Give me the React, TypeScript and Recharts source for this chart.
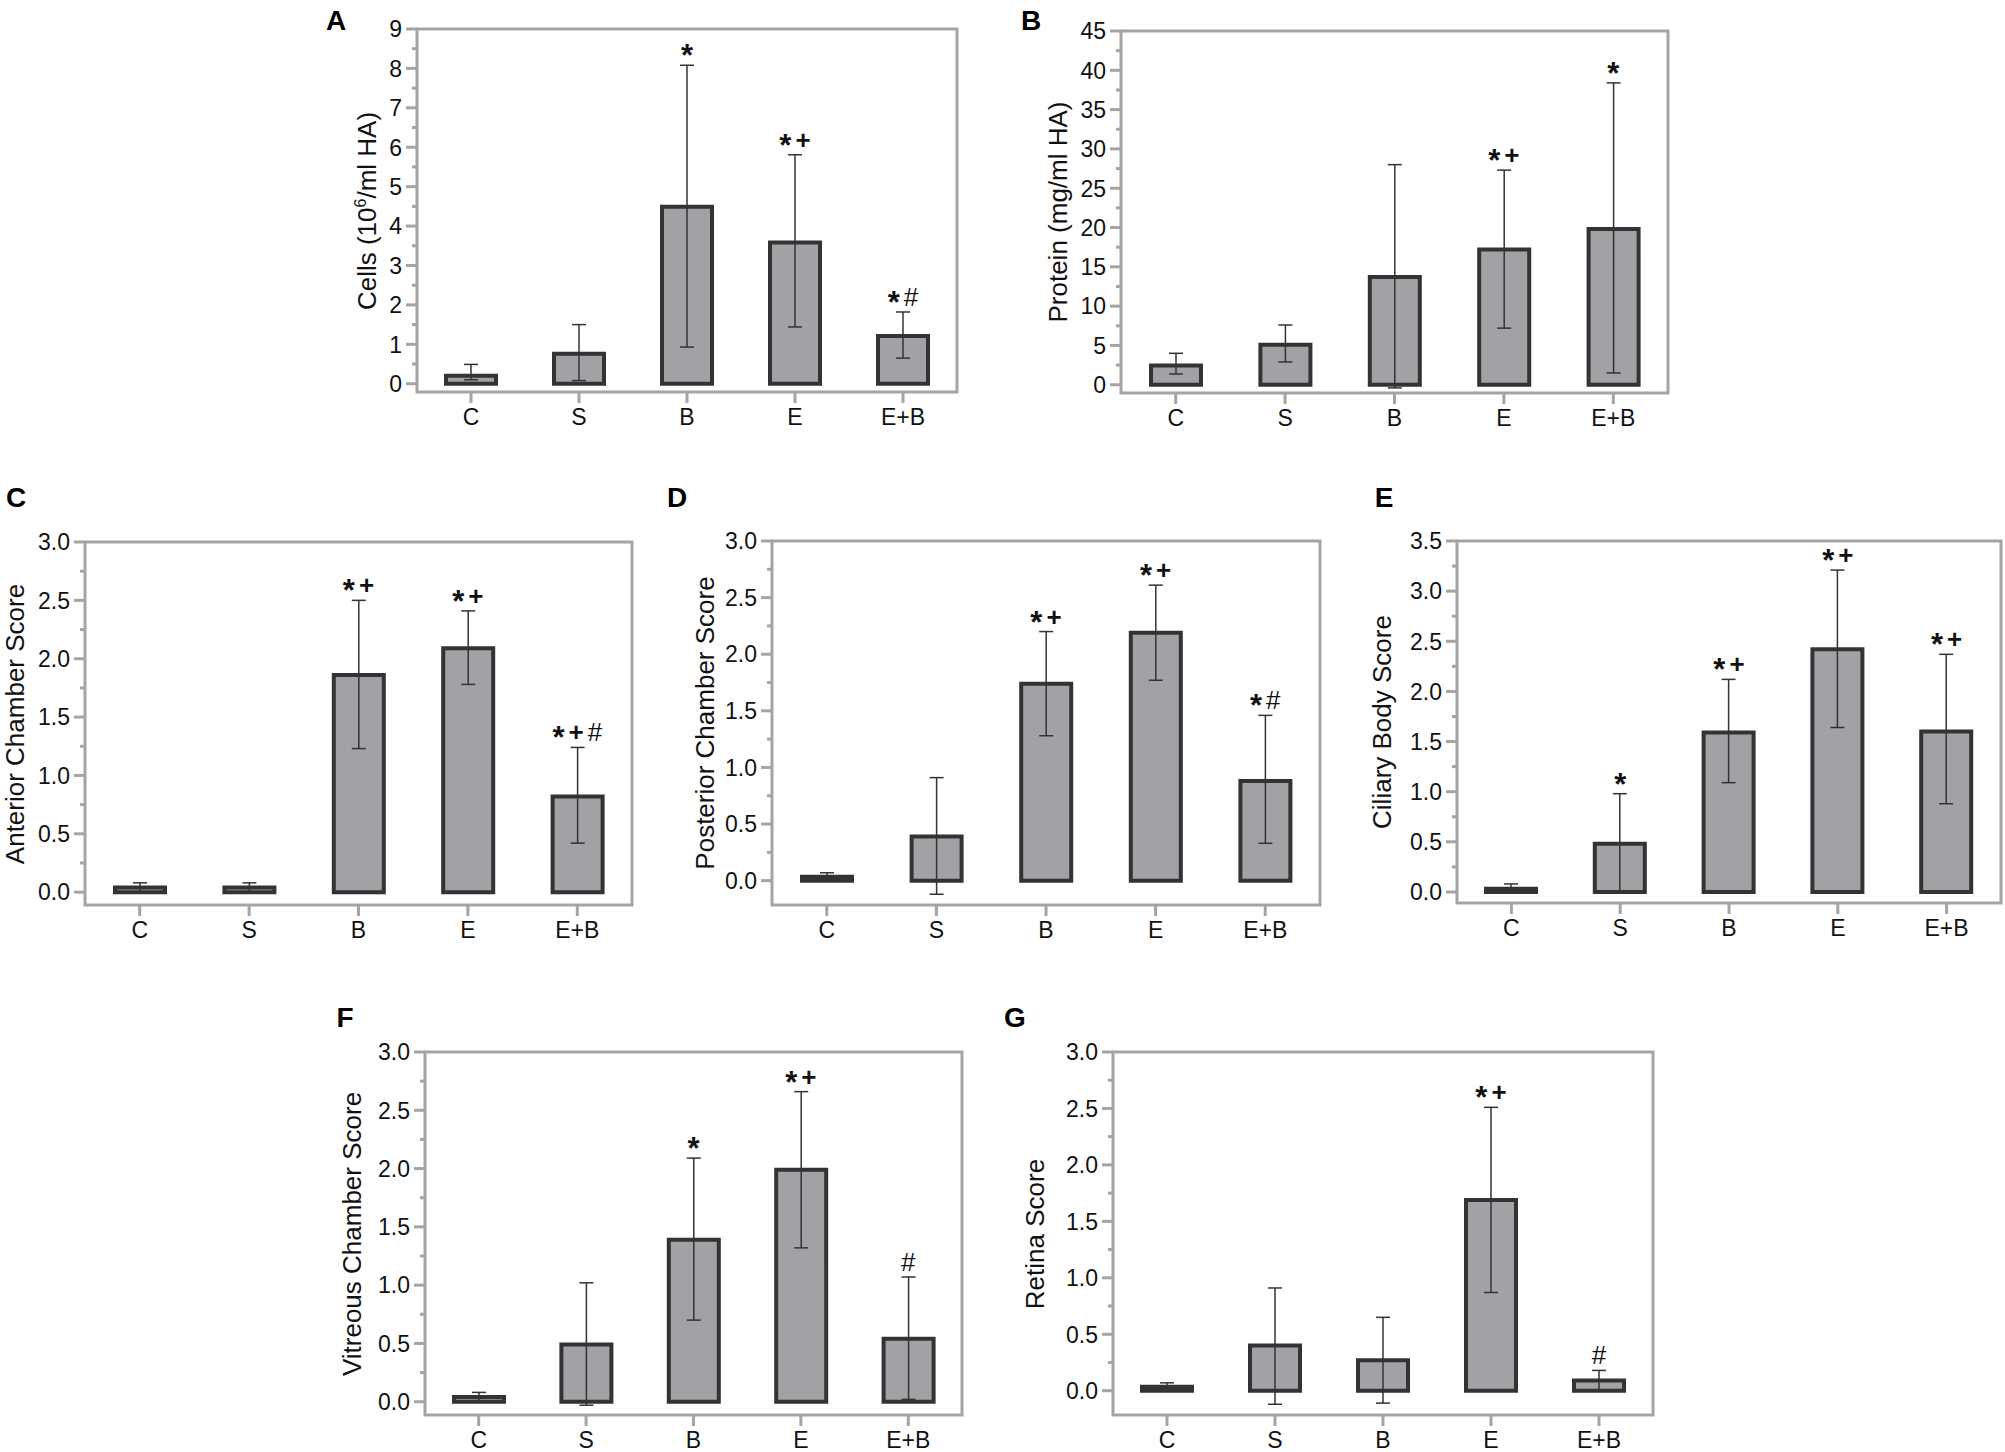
import React from "react";
import {
  Bar,
  ComposedChart,
  ErrorBar,
  LabelList,
  Line,
  ReferenceArea,
  XAxis,
  YAxis,
} from "recharts";

const groups = ["C", "S", "B", "E", "E+B"];

// A - cells
const cellsMean = [0.2, 0.76, 4.49, 3.58, 1.21];
const cellsHigh = [0.49, 1.5, 8.08, 5.81, 1.82];
const cellsLow = [0.1, 0.08, 0.93, 1.44, 0.65];
const cellsSig = ["", "", "*", "*+", "*#"];

// B - protein
const proteinMean = [2.46, 5.08, 13.7, 17.2, 19.8];
const proteinHigh = [4.0, 7.6, 28.0, 27.3, 38.4];
const proteinLow = [1.36, 2.9, -0.4, 7.2, 1.5];
const proteinSig = ["", "", "", "*+", "*"];

// C - anterior chamber
const anteriorMean = [0.04, 0.04, 1.86, 2.09, 0.82];
const anteriorHigh = [0.08, 0.08, 2.5, 2.41, 1.24];
const anteriorLow = [0.0, 0.0, 1.23, 1.78, 0.42];
const anteriorSig = ["", "", "*+", "*+", "*+#"];

// D - posterior chamber
const posteriorMean = [0.035, 0.39, 1.74, 2.19, 0.88];
const posteriorHigh = [0.07, 0.91, 2.2, 2.61, 1.46];
const posteriorLow = [0.0, -0.12, 1.28, 1.77, 0.33];
const posteriorSig = ["", "", "*+", "*+", "*#"];

// E - ciliary body
const ciliaryMean = [0.033, 0.48, 1.59, 2.42, 1.6];
const ciliaryHigh = [0.08, 0.98, 2.12, 3.21, 2.37];
const ciliaryLow = [0.0, 0.0, 1.09, 1.64, 0.88];
const ciliarySig = ["", "*", "*+", "*+", "*+"];

// F - vitreous chamber
const vitreousMean = [0.04, 0.49, 1.39, 1.99, 0.54];
const vitreousHigh = [0.08, 1.02, 2.09, 2.66, 1.07];
const vitreousLow = [0.0, -0.03, 0.7, 1.32, 0.02];
const vitreousSig = ["", "", "*", "*+", "#"];

// G - retina
const retinaMean = [0.035, 0.4, 0.27, 1.69, 0.09];
const retinaHigh = [0.07, 0.91, 0.65, 2.51, 0.18];
const retinaLow = [0.0, -0.12, -0.11, 0.87, 0.0];
const retinaSig = ["", "", "", "*+", "#"];

// axis ticks
const cellsTicks = [0, 1, 2, 3, 4, 5, 6, 7, 8, 9];
const cellsMinor = [0.5, 1.5, 2.5, 3.5, 4.5, 5.5, 6.5, 7.5, 8.5];
const proteinTicks = [0, 5, 10, 15, 20, 25, 30, 35, 40, 45];
const proteinMinor = [2.5, 7.5, 12.5, 17.5, 22.5, 27.5, 32.5, 37.5, 42.5];
const scoreTicks = [0, 0.5, 1, 1.5, 2, 2.5, 3];
const scoreMinor = [0.25, 0.75, 1.25, 1.75, 2.25, 2.75];
const ciliaryTicks = [0, 0.5, 1, 1.5, 2, 2.5, 3, 3.5];
const ciliaryMinor = [0.25, 0.75, 1.25, 1.75, 2.25, 2.75, 3.25];

const AXIS = "#a4a4a4";
const EDGE = "#333333";
const FILL = "#a2a2a6";
const FONT = "'Liberation Sans', Arial, sans-serif";
const TOP = 20; // room above each plot box

const makeRows = (mean, high, low, sig) =>
  groups.map((g, i) => ({
    group: g,
    mean: mean[i],
    high: high[i],
    err: [mean[i] - low[i], high[i] - mean[i]],
    sig: sig[i],
  }));

const YTick = ({ x, y, payload, major, decimals }: any) => {
  const isMajor = major.includes(payload.value);
  return (
    <g>
      <line
        x1={x - (isMajor ? 11 : 5)}
        x2={x}
        y1={y}
        y2={y}
        stroke={AXIS}
        strokeWidth={3}
      />
      {isMajor && (
        <text
          x={x - 15}
          y={y}
          dy="0.36em"
          textAnchor="end"
          fontSize={23}
          fontFamily={FONT}
          fill="#111"
        >
          {payload.value.toFixed(decimals)}
        </text>
      )}
    </g>
  );
};

// asterisks are enlarged and dropped so they sit level with the plus signs
const SigLabel = ({ x, y, value }: any) => {
  if (!value) return null;
  let cur = 0;
  const parts = value.split("").map((ch, i) => {
    const star = ch === "*";
    const target = star ? 7 : 0;
    const dy = target - cur;
    cur = target;
    return (
      <tspan
        key={i}
        dx={i > 0 ? 4 : 0}
        dy={dy}
        fontSize={star ? 31 : 26}
        fontWeight={ch === "#" ? "normal" : "bold"}
      >
        {ch}
      </tspan>
    );
  });
  return (
    <text
      x={x}
      y={y - 6}
      textAnchor="middle"
      fontSize={26}
      fontFamily={FONT}
      fill="#111"
    >
      {parts}
    </text>
  );
};

const Panel = ({
  letter,
  letterPos,
  title,
  titleGap,
  box,
  domain,
  major,
  minor,
  decimals,
  rows,
}: any) => {
  const ticks = [...major, ...minor].sort((a, b) => a - b);
  return (
    <>
      <div
        style={{
          position: "absolute",
          left: letterPos[0],
          top: letterPos[1],
          transform: "translate(-50%, -50%)",
          fontFamily: FONT,
          fontWeight: "bold",
          fontSize: 28,
          color: "#000",
        }}
      >
        {letter}
      </div>
      <div
        style={{
          position: "absolute",
          left: box.left - titleGap,
          top: box.top + box.height / 2,
          transform: "translate(-50%, -50%) rotate(-90deg)",
          whiteSpace: "nowrap",
          fontFamily: FONT,
          fontSize: 26,
          color: "#111",
        }}
      >
        {title}
      </div>
      <div
        style={{
          position: "absolute",
          left: box.left - 100,
          top: box.top - TOP,
        }}
      >
        <ComposedChart
          width={box.width + 110}
          height={box.height + TOP + 50}
          data={rows}
          margin={{ top: TOP, right: 10, bottom: 0, left: 0 }}
        >
          <ReferenceArea
            y1={domain[0]}
            y2={domain[1]}
            fill="none"
            stroke={AXIS}
            strokeWidth={3}
            ifOverflow="visible"
          />
          <XAxis
            dataKey="group"
            height={50}
            interval={0}
            axisLine={false}
            tickSize={11}
            tickMargin={6}
            tickLine={{ stroke: AXIS, strokeWidth: 3 }}
            tick={{ fill: "#111", fontSize: 23, fontFamily: FONT }}
          />
          <YAxis
            width={100}
            type="number"
            domain={domain}
            allowDataOverflow
            ticks={ticks}
            interval={0}
            axisLine={false}
            tickLine={false}
            tickSize={0}
            tickMargin={0}
            tick={<YTick major={major} decimals={decimals} />}
          />
          <Bar
            dataKey="mean"
            fill={FILL}
            stroke={EDGE}
            strokeWidth={4}
            barSize={50}
            isAnimationActive={false}
          >
            <ErrorBar
              dataKey="err"
              direction="y"
              width={7}
              stroke={EDGE}
              strokeWidth={1.5}
            />
          </Bar>
          <Line
            dataKey="high"
            stroke="none"
            dot={false}
            activeDot={false}
            legendType="none"
            isAnimationActive={false}
          >
            <LabelList dataKey="sig" content={<SigLabel />} />
          </Line>
        </ComposedChart>
      </div>
    </>
  );
};

export default function App() {
  return (
    <div
      style={{
        position: "absolute",
        left: 0,
        top: 0,
        width: 2005,
        height: 1452,
        overflow: "hidden",
        background: "#fff",
      }}
    >
      <Panel
        letter="A"
        letterPos={[336, 21]}
        title={
          <span>
            Cells (10<sup style={{ fontSize: 16 }}>6</sup>/ml HA)
          </span>
        }
        titleGap={50}
        box={{ left: 417, top: 29, width: 540, height: 363 }}
        domain={[-0.21, 9]}
        major={cellsTicks}
        minor={cellsMinor}
        decimals={0}
        rows={makeRows(cellsMean, cellsHigh, cellsLow, cellsSig)}
      />
      <Panel
        letter="B"
        letterPos={[1031, 21]}
        title="Protein (mg/ml HA)"
        titleGap={63}
        box={{ left: 1121, top: 31, width: 547, height: 362 }}
        domain={[-1.05, 45]}
        major={proteinTicks}
        minor={proteinMinor}
        decimals={0}
        rows={makeRows(proteinMean, proteinHigh, proteinLow, proteinSig)}
      />
      <Panel
        letter="C"
        letterPos={[16, 498]}
        title="Anterior Chamber Score"
        titleGap={70}
        box={{ left: 85, top: 542, width: 547, height: 363 }}
        domain={[-0.11, 3]}
        major={scoreTicks}
        minor={scoreMinor}
        decimals={1}
        rows={makeRows(anteriorMean, anteriorHigh, anteriorLow, anteriorSig)}
      />
      <Panel
        letter="D"
        letterPos={[677, 498]}
        title="Posterior Chamber Score"
        titleGap={67}
        box={{ left: 772, top: 541, width: 548, height: 364 }}
        domain={[-0.215, 3]}
        major={scoreTicks}
        minor={scoreMinor}
        decimals={1}
        rows={makeRows(posteriorMean, posteriorHigh, posteriorLow, posteriorSig)}
      />
      <Panel
        letter="E"
        letterPos={[1384, 498]}
        title="Ciliary Body Score"
        titleGap={75}
        box={{ left: 1457, top: 541, width: 544, height: 362 }}
        domain={[-0.11, 3.5]}
        major={ciliaryTicks}
        minor={ciliaryMinor}
        decimals={1}
        rows={makeRows(ciliaryMean, ciliaryHigh, ciliaryLow, ciliarySig)}
      />
      <Panel
        letter="F"
        letterPos={[345, 1018]}
        title="Vitreous Chamber Score"
        titleGap={73}
        box={{ left: 425, top: 1052, width: 537, height: 363 }}
        domain={[-0.114, 3]}
        major={scoreTicks}
        minor={scoreMinor}
        decimals={1}
        rows={makeRows(vitreousMean, vitreousHigh, vitreousLow, vitreousSig)}
      />
      <Panel
        letter="G"
        letterPos={[1015, 1018]}
        title="Retina Score"
        titleGap={78}
        box={{ left: 1113, top: 1052, width: 540, height: 363 }}
        domain={[-0.215, 3]}
        major={scoreTicks}
        minor={scoreMinor}
        decimals={1}
        rows={makeRows(retinaMean, retinaHigh, retinaLow, retinaSig)}
      />
    </div>
  );
}
